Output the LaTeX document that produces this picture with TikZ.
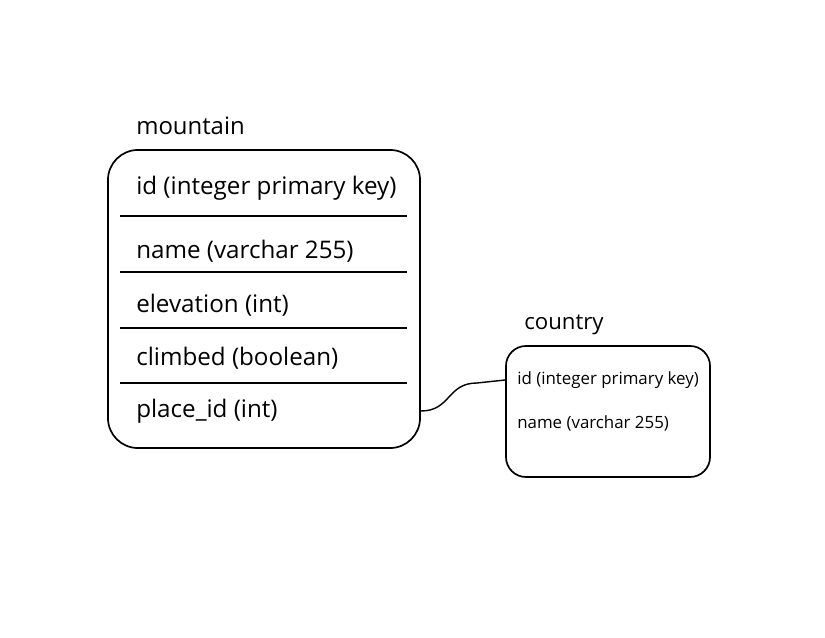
\documentclass[tikz,border=0pt]{standalone}
\usepackage{fontspec}
\setmainfont{Open Sans}
\begin{document}
\begin{tikzpicture}[x=0.025cm, y=-0.025cm,
    table/.style ={draw, line width=1.2pt},
    title/.style ={anchor=west, inner sep=0pt, font=\fontsize{17}{19}\selectfont},
    field/.style ={anchor=west, inner sep=0pt, font=\fontsize{17.2}{20}\selectfont},
    small/.style ={anchor=west, inner sep=0pt, font=\fontsize{12}{14}\selectfont}]
   \useasboundingbox (0,0) rectangle (825,638);
   % mountain table
   \node[title] (mtitle) at (136,126) {mountain};
   \node[table, rounded corners=0.75cm, minimum width=7.8cm, minimum height=7.45cm] (mountain) at (264,299) {};
   \node[field] (mid)   at (136,188) {id (integer primary key)};
   \node[field] (mname) at (136,251) {name (varchar 255)};
   \node[field] (melev) at (136,305) {elevation (int)};
   \node[field] (mclim) at (136,358) {climbed (boolean)};
   \node[field] (mplace) at (136,411) {place\_id (int)};
   \foreach \y in {216,272,328,383}
      \draw[line width=1pt] (120,\y) -- (407,\y);
   % country table
   \node[title, font=\fontsize{15.8}{18}\selectfont] (ctitle) at (524,325) {country};
   \node[table, rounded corners=0.5cm, minimum width=5.1cm, minimum height=3.275cm] (country) at (608,411.5) {};
   \node[small] (cid)   at (517,380) {id (integer primary key)};
   \node[small] (cname) at (517,423) {name (varchar 255)};

   \draw[line width=1pt] (mountain.east |- mplace) .. controls +(30,0) and +(-30,0) .. (477,383) -- (country.west |- cid);
\end{tikzpicture}
\end{document}
